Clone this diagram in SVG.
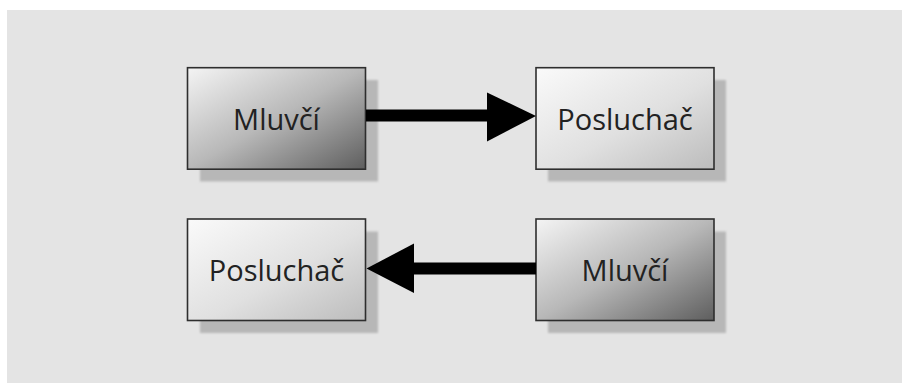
<svg xmlns="http://www.w3.org/2000/svg" width="902" height="383" viewBox="0 0 902 383">
<style>
.box{stroke:#2e2e2e;stroke-width:1.6}
.shadow{fill:#b7b7b7;filter:url(#blur)}
.label{font-family:"Open Sans","Liberation Sans",sans-serif;font-size:29px;fill:#222;text-anchor:middle}
.conn{stroke:#000;stroke-width:12;fill:none}
.head{fill:#000}
</style>
<defs>
<linearGradient id="gDark" x1="0" y1="0" x2="1" y2="1">
<stop offset="0" stop-color="#f4f4f4"/>
<stop offset="0.5" stop-color="#b8b8b8"/>
<stop offset="1" stop-color="#5e5e5e"/>
</linearGradient>
<linearGradient id="gLight" x1="0" y1="0" x2="1" y2="1">
<stop offset="0" stop-color="#fafafa"/>
<stop offset="0.55" stop-color="#e0e0e0"/>
<stop offset="1" stop-color="#bcbcbc"/>
</linearGradient>
<filter id="blur" x="-10%" y="-10%" width="120%" height="120%">
<feGaussianBlur stdDeviation="1.2"/>
</filter>
</defs>
<rect x="0" y="0" width="902" height="383" fill="#ffffff"/>
<rect x="7" y="10" width="895" height="373" fill="#e4e4e4"/>
<g id="speaker1">
<rect class="shadow" x="200" y="80" width="178" height="101.5"/>
<rect class="box" x="187.5" y="67.7" width="178" height="101.5" fill="url(#gDark)"/>
<text class="label" x="276.5" y="129.5">Mluvčí</text>
</g>
<g id="listener1">
<rect class="shadow" x="548" y="80" width="178" height="101.5"/>
<rect class="box" x="536" y="67.7" width="178" height="101.5" fill="url(#gLight)"/>
<text class="label" x="625" y="129.5">Posluchač</text>
</g>
<g id="listener2">
<rect class="shadow" x="200" y="231.5" width="178" height="101.5"/>
<rect class="box" x="187.5" y="219" width="178" height="101.5" fill="url(#gLight)"/>
<text class="label" x="276.5" y="281">Posluchač</text>
</g>
<g id="speaker2">
<rect class="shadow" x="548" y="231.5" width="178" height="101.5"/>
<rect class="box" x="536" y="219" width="178" height="101.5" fill="url(#gDark)"/>
<text class="label" x="625" y="281">Mluvčí</text>
</g>
<g id="connectors">
<line class="conn" x1="366" y1="115.5" x2="490" y2="115.5"/>
<polygon class="head" points="487,92.5 536,116 487,141.5"/>
<line class="conn" x1="536" y1="268.5" x2="411" y2="268.5"/>
<polygon class="head" points="414,243.5 366.5,268.5 414,293"/>
</g>
</svg>
